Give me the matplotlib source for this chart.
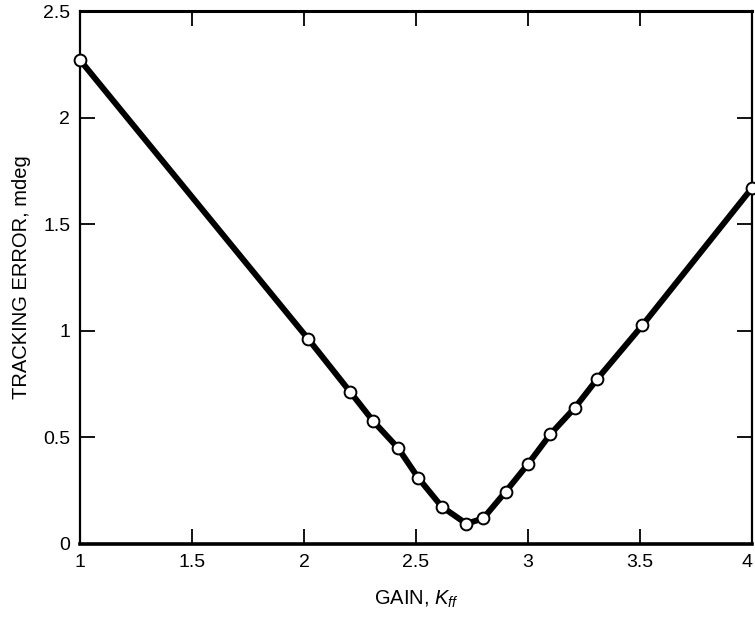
import matplotlib
matplotlib.use("Agg")
import matplotlib.pyplot as plt

# tracking error vs feedforward gain
gain = [1.0, 2.02, 2.205, 2.31, 2.42, 2.51, 2.615, 2.725, 2.80, 2.90, 3.0, 3.10, 3.21, 3.31, 3.51, 4.0]
err = [2.27, 0.96, 0.715, 0.575, 0.45, 0.31, 0.175, 0.095, 0.12, 0.245, 0.375, 0.515, 0.64, 0.775, 1.025, 1.67]

x_ticks = [1, 1.5, 2, 2.5, 3, 3.5, 4]
x_labels = ["1", "1.5", "2", "2.5", "3", "3.5", "4"]
y_ticks = [0, 0.5, 1, 1.5, 2, 2.5]
y_labels = ["0", "0.5", "1", "1.5", "2", "2.5"]

plt.rcParams["font.family"] = ["Liberation Sans", "DejaVu Sans"]
plt.rcParams["mathtext.fontset"] = "custom"
plt.rcParams["mathtext.it"] = "Liberation Sans:italic"
plt.rcParams["mathtext.rm"] = "Liberation Sans"

fig = plt.figure(figsize=(7.55, 6.18), dpi=100)
ax = fig.add_axes([80 / 755, 74 / 618, 672 / 755, 533 / 618])

ax.plot(gain, err, color="black", linewidth=4.3, solid_joinstyle="round",
        solid_capstyle="round", zorder=2)
ax.plot(gain, err, linestyle="none", marker="o", markersize=8.5,
        markerfacecolor="white", markeredgecolor="black", markeredgewidth=1.4,
        zorder=3, clip_on=False)

ax.set_xlim(1, 4)
ax.set_ylim(0, 2.5)
ax.set_xticks(x_ticks)
ax.set_xticklabels(x_labels)
ax.set_yticks(y_ticks)
ax.set_yticklabels(y_labels)
ax.tick_params(direction="in", length=11, width=1.3, labelsize=14,
               top=True, right=True, pad=7)
ax.get_xticklabels()[-1].set_horizontalalignment("right")

for side, lw in [("left", 1.6), ("right", 1.6), ("top", 2.2), ("bottom", 2.6)]:
    ax.spines[side].set_linewidth(lw)

ax.set_xlabel(r"GAIN, $K_{ff}$", fontsize=14.5, labelpad=13)
ax.set_ylabel("TRACKING ERROR, mdeg", fontsize=14.5, labelpad=9)

fig.savefig("out.png", dpi=100)
